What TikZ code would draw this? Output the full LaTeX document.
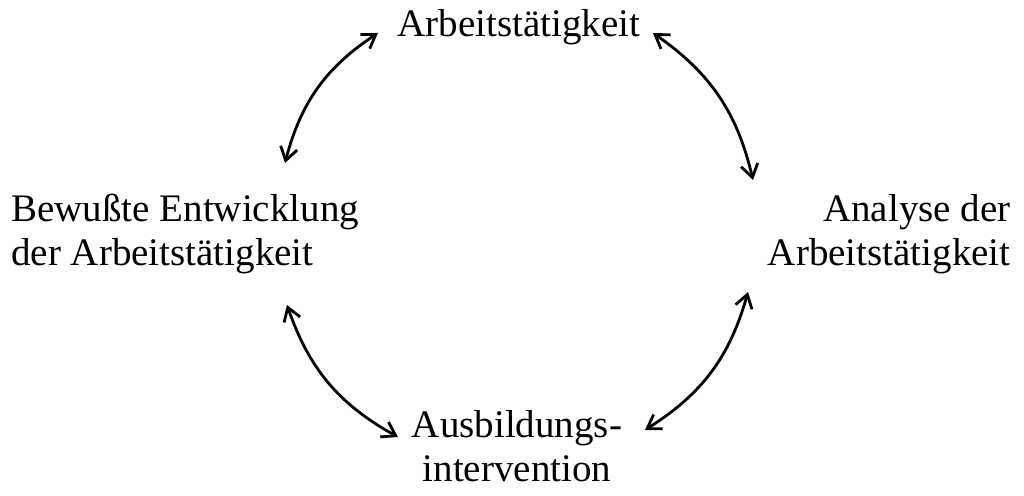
\documentclass[tikz,border=0pt]{standalone}
\usepackage{fontspec}
\setmainfont{Liberation Serif}
\usetikzlibrary{arrows.meta}
\begin{document}
\begin{tikzpicture}[x=0.5pt,y=0.5pt,
  lbl/.style={inner sep=0pt,font=\fontsize{19.5pt}{22pt}\selectfont},
  conn/.style={line width=1.4pt,{Straight Barb[length=6.5pt,width=8.5pt]}-{Straight Barb[length=6.5pt,width=8.5pt]},bend left=21}]
\useasboundingbox (0,0) rectangle (1024,496);
% labels (base anchor = baseline of the last line)
\node[lbl,anchor=base] (top) at (519,459) {Arbeitstätigkeit};
\node[lbl,anchor=base west,align=left] (left) at (11,230) {Bewußte Entwicklung\\der Arbeitstätigkeit};
\node[lbl,anchor=base east,align=right] (right) at (1011,230) {Analyse der\\Arbeitstätigkeit};
\node[lbl,anchor=base,align=center] (bottom) at (517,14) {Ausbildungs-\\intervention};
% arrow ends
\coordinate (a1s) at (285,333);
\coordinate (a1e) at (378,463);
\coordinate (a2s) at (653,463);
\coordinate (a2e) at (753,316);
\coordinate (a3s) at (748,204);
\coordinate (a3e) at (645,66);
\coordinate (a4s) at (398,59);
\coordinate (a4e) at (287,191);
\draw[conn] (a1s) to (a1e);
\draw[conn] (a2s) to (a2e);
\draw[conn] (a3s) to (a3e);
\draw[conn] (a4s) to (a4e);
\end{tikzpicture}
\end{document}
